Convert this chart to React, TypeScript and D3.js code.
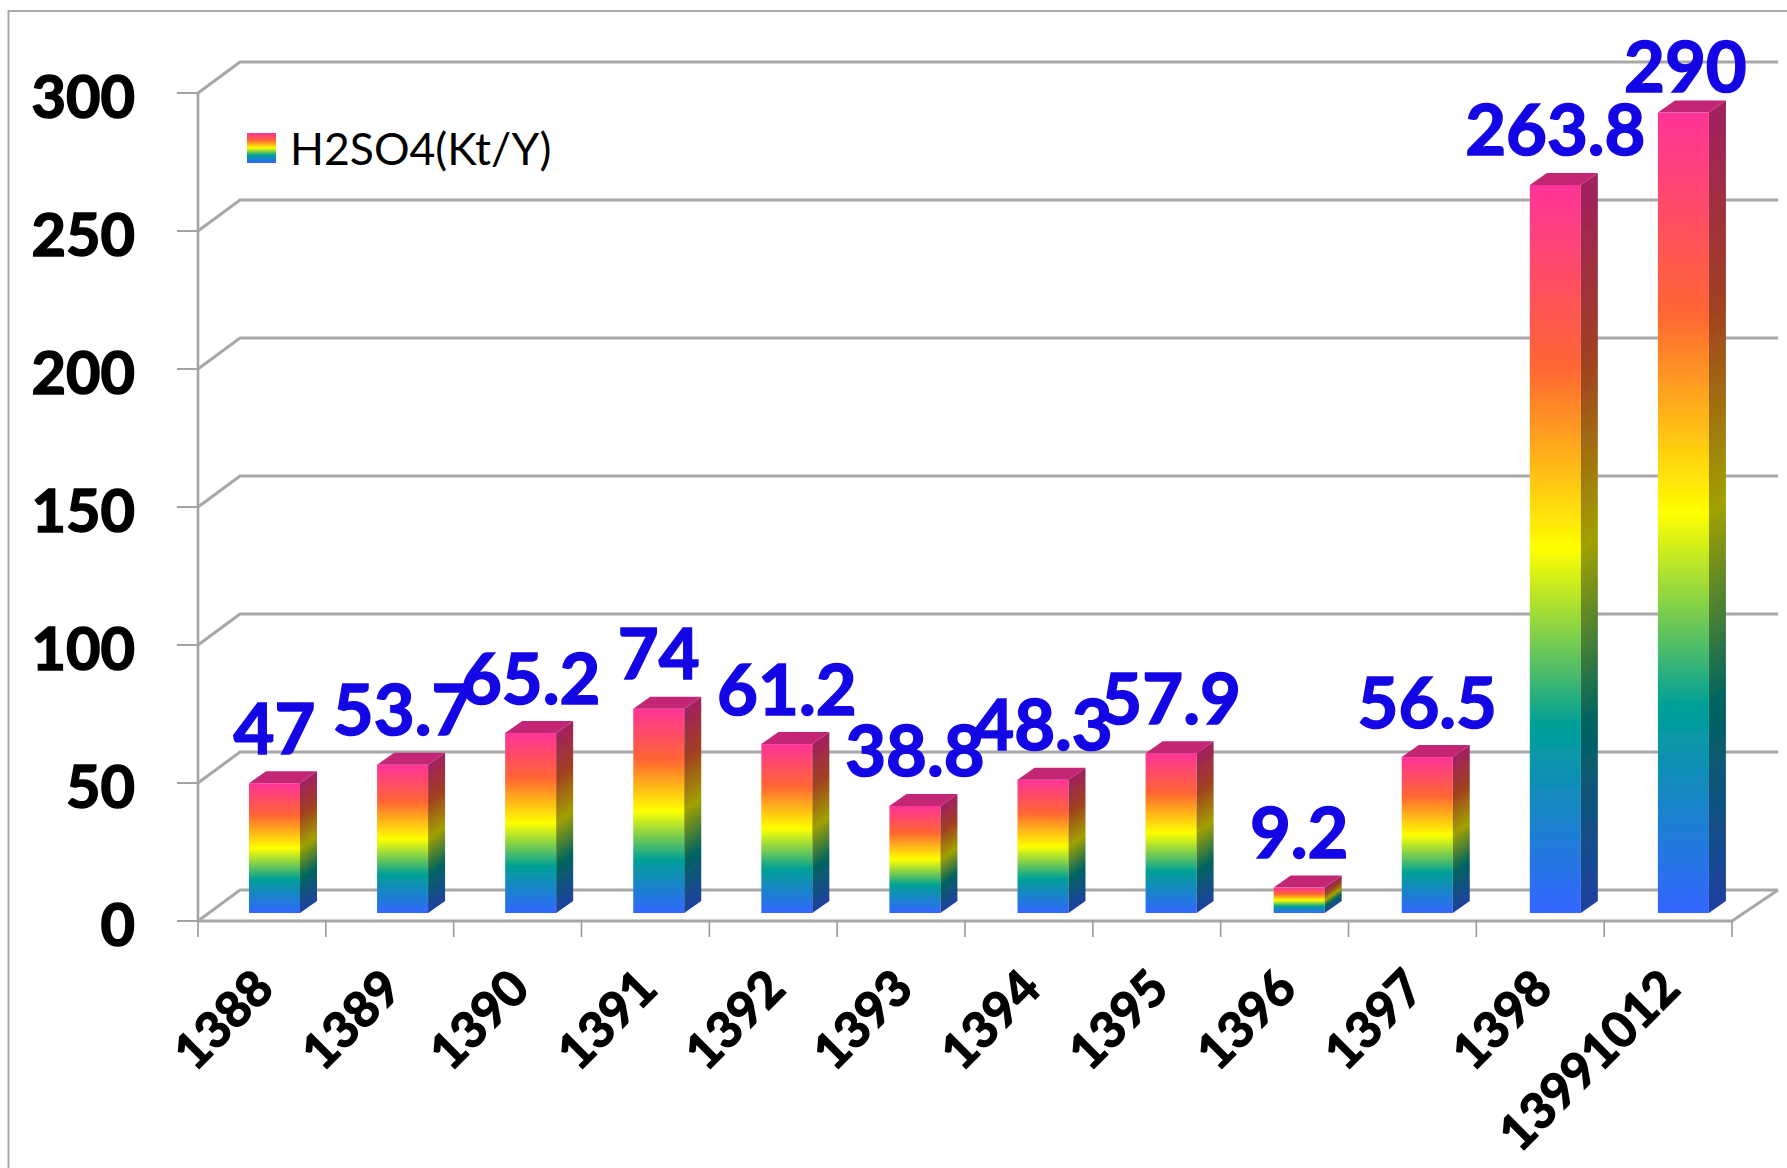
import React from "react";
import * as d3 from "d3";

const categories = ["1388","1389","1390","1391","1392","1393","1394","1395","1396","1397","1398","13991012"];
const values = [47,53.7,65.2,74,61.2,38.8,48.3,57.9,9.2,56.5,263.8,290];
const valueLabels = ["47","53.7","65.2","74","61.2","38.8","48.3","57.9","9.2","56.5","263.8","290"];
const yTicks = [0,50,100,150,200,250,300];
const seriesName = "H2SO4(Kt/Y)";
const stopOffsets = [0,0.25,0.5,0.74,1];
const stopColors = ["#ff3399","#ff6633","#ffff00","#00a096","#3366ff"];

const FONT = "Lato, Carlito, sans-serif";
const W = 1787, H = 1168;
const AX0 = 198, AX1 = 1732;
const Y0 = 921, Y300 = 93;
const WALL_DX = 42, WALL_DY = -31;
const BAR_INSET = 51, BAR_W = 51, BAR_DX = 17, BAR_DY = -12, BAR_LIFT = 8;
const GRID = "#a8a8a8";

const x = d3.scaleBand<string>().domain(categories).range([AX0, AX1]);
const xBars = d3.scaleBand<string>().domain(categories).range([AX0, AX1 + 3]);
const y = d3.scaleLinear().domain([0, 300]).range([Y0, Y300]);

const shade = (c: string, k: number) => {
  const r = d3.rgb(c);
  return d3.rgb(r.r * k, r.g * k, r.b * k).formatHex();
};

export default function App() {
  const poly = (p: number[][]) => p.map((q) => q.join(",")).join(" ");
  const barGeom = values.map((v, i) => {
    const bx = (xBars(categories[i]) as number) + BAR_INSET;
    const base = Y0 - BAR_LIFT;
    const top = y(v) - BAR_LIFT;
    const h = base - top;
    const t = (BAR_DX * h) / (BAR_DX * BAR_DX + BAR_DY * BAR_DY);
    return { bx, base, top, h, t };
  });
  return (
    <svg width={W} height={H} viewBox={`0 0 ${W} ${H}`} style={{ position: "absolute", left: 0, top: 0, display: "block", background: "#fff" }}>
      <defs>
        <filter id="soft" x="-5%" y="-5%" width="110%" height="110%">
          <feGaussianBlur stdDeviation="0.7" />
        </filter>
        <linearGradient id="legendGrad" x1="0" y1="0" x2="0" y2="1">
          {stopOffsets.map((o, k) => <stop key={k} offset={o} stopColor={stopColors[k]} />)}
        </linearGradient>
        {barGeom.map((b, i) => (
          <React.Fragment key={i}>
            <linearGradient id={`front${i}`} gradientUnits="userSpaceOnUse" x1={b.bx} y1={b.top} x2={b.bx} y2={b.base}>
              {stopOffsets.map((o, k) => <stop key={k} offset={o} stopColor={stopColors[k]} />)}
            </linearGradient>
            <linearGradient id={`side${i}`} gradientUnits="userSpaceOnUse"
              x1={b.bx + BAR_W} y1={b.top}
              x2={b.bx + BAR_W + -BAR_DY * b.t} y2={b.top + BAR_DX * b.t}>
              {stopOffsets.map((o, k) => <stop key={k} offset={o} stopColor={shade(stopColors[k], 0.63)} />)}
            </linearGradient>
          </React.Fragment>
        ))}
      </defs>

      {/* chart frame */}
      <path d={`M8.5,${H} V11 H${W}`} fill="none" stroke="#a9a9a9" strokeWidth={2} />

      <g filter="url(#soft)">
        {yTicks.map((t) => (
          <g key={t} stroke={GRID} fill="none">
            <path d={`M${AX0},${y(t)} L${AX0 + WALL_DX},${y(t) + WALL_DY} H${AX1 + WALL_DX + 4}`} strokeWidth={3} />
            <path d={`M${AX0 - 21},${y(t)} H${AX0}`} strokeWidth={1.8} stroke="#999" />
          </g>
        ))}
        <path d={`M${AX0},${y(300)} V${Y0}`} stroke="#a3a3a3" strokeWidth={2.6} fill="none" />
        <path d={`M${AX0},${Y0} H${AX1} L${AX1 + WALL_DX + 4},${Y0 + WALL_DY}`} stroke={GRID} strokeWidth={3} fill="none" />
        {[...categories.map((c) => x(c) as number), AX1].map((p, i) => (
          <path key={i} d={`M${p},${Y0} V${Y0 + 16}`} stroke="#999" strokeWidth={1.6} />
        ))}

        {barGeom.map((b, i) => (
          <g key={i}>
            <rect x={b.bx} y={b.top} width={BAR_W} height={b.h} fill={`url(#front${i})`} />
            <polygon
              points={poly([[b.bx + BAR_W, b.top], [b.bx + BAR_W + BAR_DX, b.top + BAR_DY], [b.bx + BAR_W + BAR_DX, b.base + BAR_DY], [b.bx + BAR_W, b.base]])}
              fill={`url(#side${i})`} />
            <polygon
              points={poly([[b.bx, b.top], [b.bx + BAR_DX, b.top + BAR_DY], [b.bx + BAR_W + BAR_DX, b.top + BAR_DY], [b.bx + BAR_W, b.top]])}
              fill={shade(stopColors[0], 0.76)} />
          </g>
        ))}
      </g>

      {yTicks.map((t) => (
        <text key={t} x={135} y={y(t) + 25} textAnchor="end" fontFamily={FONT} fontWeight={700} fontSize={59.5} fill="#000" stroke="#000" strokeWidth={1.6}>{t}</text>
      ))}

      {categories.map((c) => {
        const cx = (x(c) as number) + x.bandwidth() / 2;
        return (
          <text key={c} transform={`translate(${cx + 2},${979}) rotate(-45)`} textAnchor="end" dy="0.35em"
            fontFamily={FONT} fontWeight={700} fontSize={49.5} fill="#000" stroke="#000" strokeWidth={1.4}>{c}</text>
        );
      })}

      {barGeom.map((b, i) => {
        const last = i === values.length - 1;
        return (
          <text key={i} x={b.bx + BAR_W / 2 + (last ? 2 : 0)} y={b.top - (last ? 21 : 29.5)} textAnchor="middle"
            fontFamily={FONT} fontWeight={700} fontSize={70.5} fill="#1406e4" stroke="#1406e4" strokeWidth={1.6}>{valueLabels[i]}</text>
        );
      })}

      <rect x={247} y={133} width={29} height={30} fill="url(#legendGrad)" />
      <text x={290} y={165} fontFamily={FONT} fontSize={44.5} fill="#000">{seriesName}</text>
    </svg>
  );
}
